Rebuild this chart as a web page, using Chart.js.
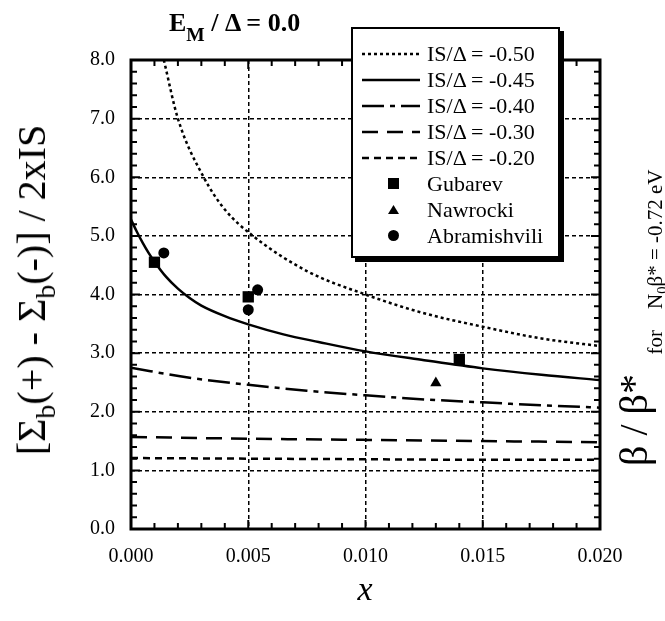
<!DOCTYPE html>
<html lang="en">
<head>
  <meta charset="UTF-8" />
  <title>Sigma difference vs x</title>
  <style>
    body {
      margin: 0;
      background: white;
      font-family: "Liberation Serif", "Times New Roman", serif;
    }
    #wrap {
      position: relative;
      width: 665px;
      height: 621px;
    }
    .lab {
      position: absolute;
      white-space: nowrap;
      color: black;
      line-height: 1;
    }
    .rot {
      transform: translate(-50%, -50%) rotate(-90deg);
    }
    .sub {
      font-size: 0.7em;
      vertical-align: -0.35em;
      line-height: 0;
    }
    #legend {
      position: absolute;
      left: 351px;
      top: 27px;
      width: 209px;
      height: 231px;
      box-sizing: border-box;
      border: 2px solid black;
      box-shadow: 4px 4px 0 black;
      background: white;
    }
    .row {
      position: absolute;
      left: 0;
      width: 100%;
      height: 26px;
      font-size: 22px;
      line-height: 26px;
    }
    .row svg {
      position: absolute;
      top: 0;
    }
    .row span {
      position: absolute;
      left: 74px;
      top: 0;
    }
  </style>
</head>
<body>
  <div id="wrap">
    <canvas id="chart" width="665" height="621"></canvas>

    <div class="lab" style="left:169px; top:10px; font-size:26px; font-weight:bold;">E<span class="sub" style="vertical-align:-0.5em; font-size:0.75em;">M</span> / Δ = 0.0</div>
    <div class="lab rot" style="left:32px; top:290px; font-size:40px;">[Σ<span class="sub">b</span>(+) - Σ<span class="sub">b</span>(-)] / 2xIS</div>
    <div class="lab rot" style="left:634px; top:420px; font-size:40px;">β / β*</div>
    <div class="lab rot" style="left:655px; top:262px; font-size:21px;">for&nbsp;&nbsp;&nbsp; N<span class="sub">0</span>β* = -0.72 eV</div>
    <div class="lab" style="left:365px; top:572px; font-size:34px; font-style:italic; transform:translateX(-50%);">x</div>

    <div id="legend"></div>
  </div>

  <script src="https://cdn.jsdelivr.net/npm/chart.js"></script>
  <script>
    // axis ticks
    const xTicks = [0, 0.005, 0.010, 0.015, 0.020];
    const yTicks = [0, 1, 2, 3, 4, 5, 6, 7, 8];

    // theory curves
    const curveLabels = ['IS/Δ = -0.50', 'IS/Δ = -0.45', 'IS/Δ = -0.40', 'IS/Δ = -0.30', 'IS/Δ = -0.20'];

    const x050 = [0.0014, 0.0020, 0.0031, 0.0040, 0.0052, 0.0075, 0.010, 0.0125, 0.015, 0.0175, 0.020];
    const y050 = [8.0, 7.0, 6.0, 5.45, 5.0, 4.4, 4.0, 3.68, 3.45, 3.25, 3.12];

    const x045 = [0, 0.00025, 0.0005, 0.00075, 0.001, 0.0015, 0.002, 0.0025, 0.003, 0.004, 0.005, 0.0065, 0.008, 0.010, 0.0125, 0.015, 0.0175, 0.020];
    const y045 = [5.28, 5.07, 4.88, 4.71, 4.56, 4.30, 4.10, 3.94, 3.81, 3.63, 3.49, 3.32, 3.19, 3.03, 2.88, 2.74, 2.63, 2.54];

    const x040 = [0, 0.0025, 0.005, 0.0075, 0.010, 0.0125, 0.015, 0.0175, 0.020];
    const y040 = [2.75, 2.58, 2.46, 2.36, 2.28, 2.21, 2.16, 2.11, 2.07];

    const x030 = [0, 0.005, 0.010, 0.015, 0.020];
    const y030 = [1.57, 1.54, 1.52, 1.50, 1.48];

    const x020 = [0, 0.005, 0.010, 0.015, 0.020];
    const y020 = [1.21, 1.20, 1.19, 1.18, 1.18];

    // measured points
    const seriesNames = ['Gubarev', 'Nawrocki', 'Abramishvili'];
    const gubarevX = [0.001, 0.005, 0.014];
    const gubarevY = [4.55, 3.96, 2.89];
    const nawrockiX = [0.013];
    const nawrockiY = [2.49];
    const abramX = [0.0014, 0.0054, 0.005];
    const abramY = [4.71, 4.08, 3.74];

    // styles
    const curveDashes = [[3, 3], [], [22, 6, 5, 6], [16, 9], [7, 5]];
    const markerStyles = ['rect', 'triangle', 'circle'];
    const markerRadius = [8, 6.5, 5.5];

    const font = { family: '"Liberation Serif", "Times New Roman", serif', size: 20 };

    function pts(xs, ys) {
      return xs.map((v, i) => ({ x: v, y: ys[i] }));
    }

    const curves = [[x050, y050], [x045, y045], [x040, y040], [x030, y030], [x020, y020]];
    const markers = [[gubarevX, gubarevY], [nawrockiX, nawrockiY], [abramX, abramY]];

    const datasets = [];
    curves.forEach((c, i) => {
      datasets.push({
        label: curveLabels[i],
        data: pts(c[0], c[1]),
        showLine: true,
        borderColor: '#000',
        borderWidth: 2.5,
        borderDash: curveDashes[i],
        pointRadius: 0,
        cubicInterpolationMode: 'monotone',
        fill: false
      });
    });
    markers.forEach((m, i) => {
      datasets.push({
        label: seriesNames[i],
        data: pts(m[0], m[1]),
        showLine: false,
        pointStyle: markerStyles[i],
        pointRadius: markerRadius[i],
        backgroundColor: '#000',
        borderColor: '#000',
        borderWidth: 0
      });
    });

    // frame with inward ticks on all four sides
    const frameTicks = {
      id: 'frameTicks',
      afterDatasetsDraw(chart) {
        const { ctx, chartArea: a, scales: { x, y } } = chart;
        ctx.save();
        ctx.strokeStyle = '#000';
        ctx.lineWidth = 2;
        ctx.beginPath();
        for (let i = 0; i <= 20; i++) {
          const px = x.getPixelForValue(i * 0.001);
          const len = i % 5 === 0 ? 9 : 6;
          ctx.moveTo(px, a.bottom);
          ctx.lineTo(px, a.bottom - len);
          ctx.moveTo(px, a.top);
          ctx.lineTo(px, a.top + len);
        }
        for (let i = 0; i <= 40; i++) {
          const py = y.getPixelForValue(i * 0.2);
          const len = i % 5 === 0 ? 9 : 6;
          ctx.moveTo(a.left, py);
          ctx.lineTo(a.left + len, py);
          ctx.moveTo(a.right, py);
          ctx.lineTo(a.right - len, py);
        }
        ctx.stroke();
        ctx.lineWidth = 3;
        ctx.strokeRect(a.left, a.top, a.right - a.left, a.bottom - a.top);
        ctx.restore();
      }
    };

    const chart = new Chart(document.getElementById('chart'), {
      type: 'scatter',
      data: { datasets: datasets },
      options: {
        responsive: false,
        animation: false,
        layout: { padding: { left: 0, right: 65, top: 60, bottom: 0 } },
        plugins: { legend: { display: false }, tooltip: { enabled: false } },
        scales: {
          x: {
            type: 'linear',
            min: 0,
            max: 0.02,
            afterBuildTicks: s => { s.ticks = xTicks.map(v => ({ value: v })); },
            afterFit: s => { s.height = 92; },
            ticks: { callback: v => v.toFixed(3), font: font, color: '#000', padding: 16, maxRotation: 0 },
            grid: { color: '#000', lineWidth: 1.5, drawTicks: false },
            border: { display: false, dash: [4, 3] }
          },
          y: {
            type: 'linear',
            min: 0,
            max: 8,
            afterBuildTicks: s => { s.ticks = yTicks.map(v => ({ value: v })); },
            afterFit: s => { s.width = 131; },
            ticks: { callback: v => v.toFixed(1), font: font, color: '#000', padding: 16 },
            grid: { color: '#000', lineWidth: 1.5, drawTicks: false },
            border: { display: false, dash: [4, 3] }
          }
        }
      },
      plugins: [frameTicks]
    });

    // legend built from the same labels and styles
    const legend = document.getElementById('legend');
    function addRow(k, svg, text) {
      const row = document.createElement('div');
      row.className = 'row';
      row.style.top = (12 + 26 * k) + 'px';
      row.innerHTML = svg + '<span>' + text + '</span>';
      legend.appendChild(row);
    }
    curveLabels.forEach((lab, i) => {
      const dash = curveDashes[i].length ? curveDashes[i].join(' ') : 'none';
      addRow(i, '<svg width="60" height="26" style="left:8px"><line x1="1" y1="13" x2="59" y2="13" stroke="#000" stroke-width="2.5" stroke-dasharray="' + dash + '"/></svg>', lab);
    });
    seriesNames.forEach((name, i) => {
      let shape;
      if (markerStyles[i] === 'rect') shape = '<rect x="5" y="7" width="11" height="11" fill="#000"/>';
      else if (markerStyles[i] === 'triangle') shape = '<polygon points="10.5,8 16,17 5,17" fill="#000"/>';
      else shape = '<circle cx="10.5" cy="12.5" r="5.5" fill="#000"/>';
      addRow(curveLabels.length + i, '<svg width="21" height="26" style="left:30px">' + shape + '</svg>', name);
    });
  </script>
</body>
</html>
